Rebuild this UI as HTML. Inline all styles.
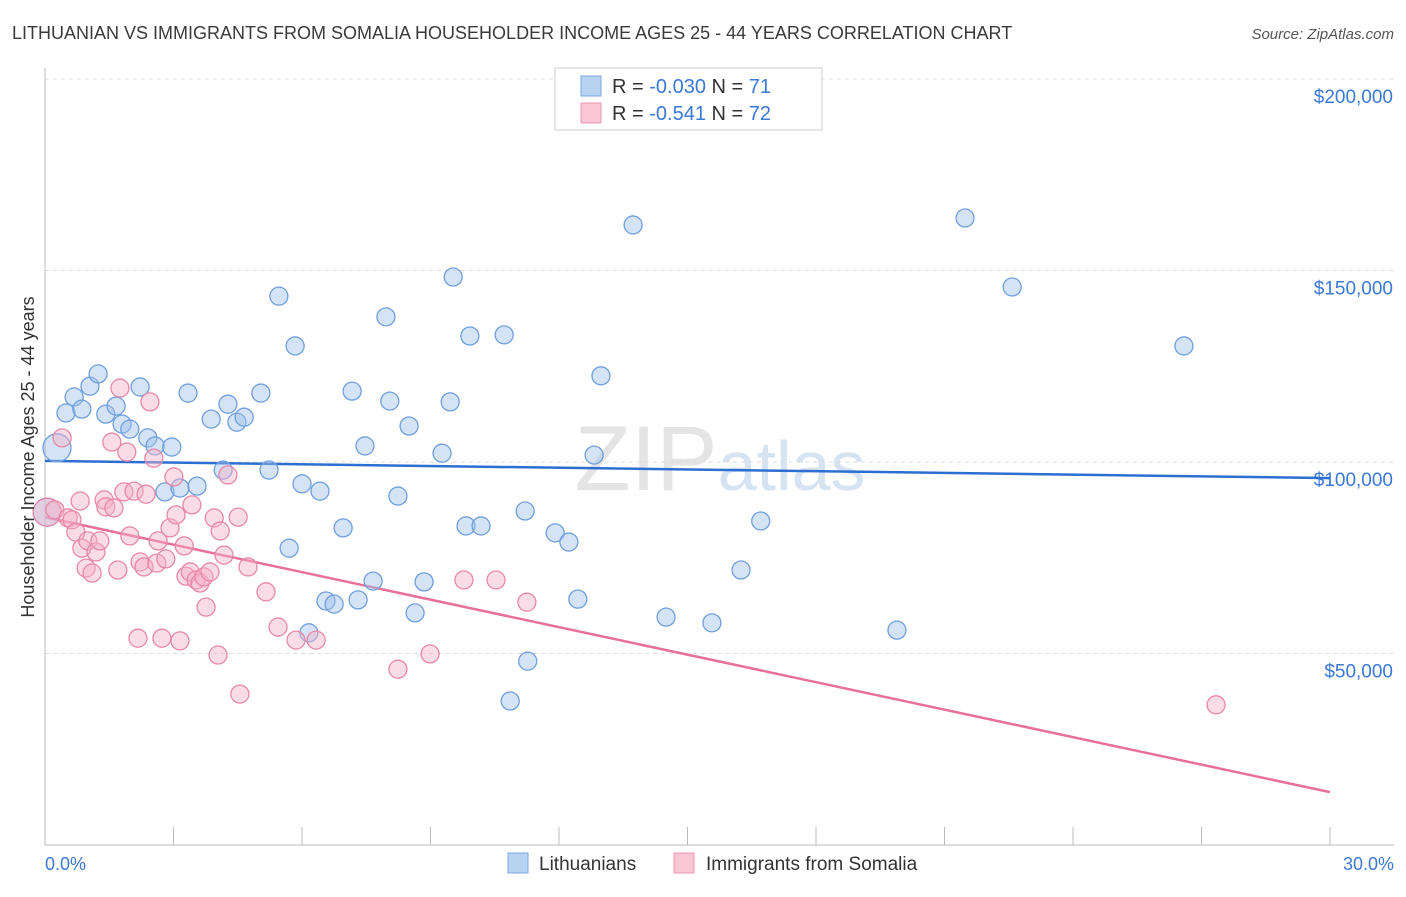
<!DOCTYPE html>
<html><head><meta charset="utf-8">
<style>
body{margin:0;background:#fff;font-family:"Liberation Sans",sans-serif;}
svg text{font-family:"Liberation Sans",sans-serif;}
</style></head>
<body>
<svg id="chart" width="1406" height="892" viewBox="0 0 1406 892">
<text x="12" y="39" font-size="18" fill="#3a3a3a">LITHUANIAN VS IMMIGRANTS FROM SOMALIA HOUSEHOLDER INCOME AGES 25 - 44 YEARS CORRELATION CHART</text>
<text x="1394" y="39" font-size="15" fill="#555" text-anchor="end" font-style="italic">Source: ZipAtlas.com</text>
<text x="720" y="490" font-size="92" fill="#e4e4e4" text-anchor="middle" font-family="Liberation Serif">ZIP<tspan fill="#d6e3f3" font-family="Liberation Sans" font-size="70">atlas</tspan></text>
<g id="grid"></g>
<g id="axes"></g>
<g id="trend"></g>
<g id="pts"></g>
<text transform="translate(34,457) rotate(-90)" font-size="18" fill="#333" text-anchor="middle">Householder Income Ages 25 - 44 years</text>
<text x="45" y="870" font-size="18" fill="#3b78d8">0.0%</text>
<text x="1394" y="870" font-size="18" fill="#3b78d8" text-anchor="end">30.0%</text>
<g>
<rect x="555" y="68" width="267" height="62" fill="#fff" stroke="#ccc"/>
<rect x="581" y="76" width="20" height="20" fill="#b8d2f2" stroke="#7aa6e0"/>
<rect x="581" y="103" width="20" height="20" fill="#f8c6d5" stroke="#eb98b4"/>
<text x="612" y="93" font-size="20" fill="#333">R = <tspan fill="#3b78d8">-0.030</tspan>   N = <tspan fill="#3b78d8">71</tspan></text>
<text x="612" y="120" font-size="20" fill="#333">R =  <tspan fill="#3b78d8">-0.541</tspan>   N = <tspan fill="#3b78d8">72</tspan></text>
</g>
<g>
<rect x="508" y="853" width="20" height="20" fill="#b8d2f2" stroke="#7aa6e0"/>
<text x="539" y="870" font-size="19" fill="#333">Lithuanians</text>
<rect x="674" y="853" width="20" height="20" fill="#f8c6d5" stroke="#eb98b4"/>
<text x="706" y="870" font-size="19" fill="#333">Immigrants from Somalia</text>
</g>
</svg>
<script>
const yTicks=[50000,100000,150000,200000];
const yTickLabels=["$50,000","$100,000","$150,000","$200,000"];
const xTicks=[0,3,6,9,12,15,18,21,24,27,30];
const blueX=[0.05,0.28,0.49,0.68,0.86,1.05,1.24,1.42,1.66,1.80,1.98,2.22,2.40,2.57,2.96,2.80,3.15,3.34,3.55,3.88,4.16,4.27,4.48,4.65,5.04,5.23,5.46,5.70,5.84,6.00,6.16,6.42,6.56,6.75,6.96,7.17,7.31,7.47,7.66,7.96,8.05,8.24,8.50,8.64,8.85,9.27,9.46,9.53,9.83,9.92,10.18,10.72,10.86,11.21,11.27,11.91,12.23,12.44,12.82,12.98,13.73,14.50,15.57,16.25,16.71,19.89,21.48,22.58,26.59];
const blueY=[86.9,103.7,112.8,117.0,113.8,119.8,123.0,112.5,114.6,109.9,108.6,119.6,106.3,104.2,103.9,92.2,93.2,118.0,93.7,111.2,97.9,115.1,110.4,111.7,118.0,97.9,143.3,77.5,130.3,94.3,55.4,92.4,63.7,62.9,82.8,118.5,64.0,104.2,68.9,137.9,115.9,91.1,109.4,60.6,68.7,102.3,115.7,148.3,83.3,132.9,83.3,133.2,37.6,87.2,48.0,81.5,79.1,64.2,101.8,122.5,161.9,59.5,58.0,71.8,84.6,56.1,163.7,145.7,130.3];
const pinkX=[0.05,0.23,0.40,0.54,0.63,0.72,0.82,0.86,0.96,1.00,1.10,1.19,1.28,1.38,1.42,1.56,1.61,1.70,1.75,1.84,1.91,1.98,2.08,2.17,2.22,2.31,2.36,2.45,2.54,2.61,2.64,2.73,2.82,2.92,3.01,3.06,3.15,3.25,3.29,3.39,3.43,3.53,3.62,3.71,3.76,3.85,3.95,4.04,4.09,4.18,4.27,4.51,4.55,4.74,5.16,5.44,5.86,6.33,8.24,8.99,9.78,10.53,11.25,27.34];
const pinkY=[86.9,87.5,106.3,85.4,84.9,81.7,89.8,77.5,72.3,79.4,71.0,76.5,79.4,90.1,88.3,105.2,88.0,71.8,119.3,92.2,102.6,80.7,92.4,54.0,73.9,72.6,91.6,115.7,101.0,73.6,79.4,54.0,74.7,82.8,96.1,86.2,53.3,78.1,70.2,71.3,88.8,69.2,68.4,70.0,62.1,71.3,85.4,49.6,82.0,75.7,96.6,85.6,39.4,72.6,66.1,56.9,53.5,53.5,45.9,49.9,69.2,69.2,63.4,36.6];
const blueTrend=[100.3,95.8];
const pinkTrend=[85.6,13.8];
const NS="http://www.w3.org/2000/svg";
const X=v=>45+v/30*1285;
const Y=k=>462-(k-100)/50*191.5;
function mk(tag,attrs,parent){const e=document.createElementNS(NS,tag);for(const a in attrs)e.setAttribute(a,attrs[a]);document.getElementById(parent).appendChild(e);return e;}
yTicks.forEach((t,i)=>{
 const y=Y(t/1000);
 const g=mk('line',{x1:45,x2:1394,y1:y,y2:y,stroke:'#ddd','stroke-dasharray':'4,4'},'grid');
 
 
 const tx=mk('text',{x:1393,y:y+24,'font-size':19,fill:'#3b78d8','text-anchor':'end'},'grid');
 tx.textContent=yTickLabels[i];
 
 
});
const ax=mk('line',{x1:45,x2:1394,y1:845,y2:845,stroke:'#bbb'},'axes');


const ay=mk('line',{x1:45,x2:45,y1:68,y2:845,stroke:'#bbb'},'axes');


xTicks.forEach(t=>{
 const l=mk('line',{x1:X(t),x2:X(t),y1:827,y2:845,stroke:'#bbb'},'axes');
 
 
});
function pts(xs,ys,fill,stroke,name){
 xs.forEach((x,i)=>{
  const big=(i<2&&name==='lithuanian-point')||(i===0&&name==='somalia-point');
  const c=mk('circle',{cx:X(x),cy:Y(ys[i]),r:big?14:9,fill:fill,'fill-opacity':0.45,stroke:stroke,'stroke-width':1.3},'pts');
  
  
 });
}
pts(blueX,blueY,'#9fc0ec','#6f9fde','lithuanian-point');
pts(pinkX,pinkY,'#f5b2c7','#e888a8','somalia-point');
const bl=mk('line',{x1:X(0),x2:X(30),y1:Y(blueTrend[0]),y2:Y(blueTrend[1]),stroke:'#2b6fd0','stroke-width':2.5},'trend');


const pl=mk('line',{x1:X(0),x2:X(30),y1:Y(pinkTrend[0]),y2:Y(pinkTrend[1]),stroke:'#e8709a','stroke-width':2.5},'trend');


</script>
</body></html>
